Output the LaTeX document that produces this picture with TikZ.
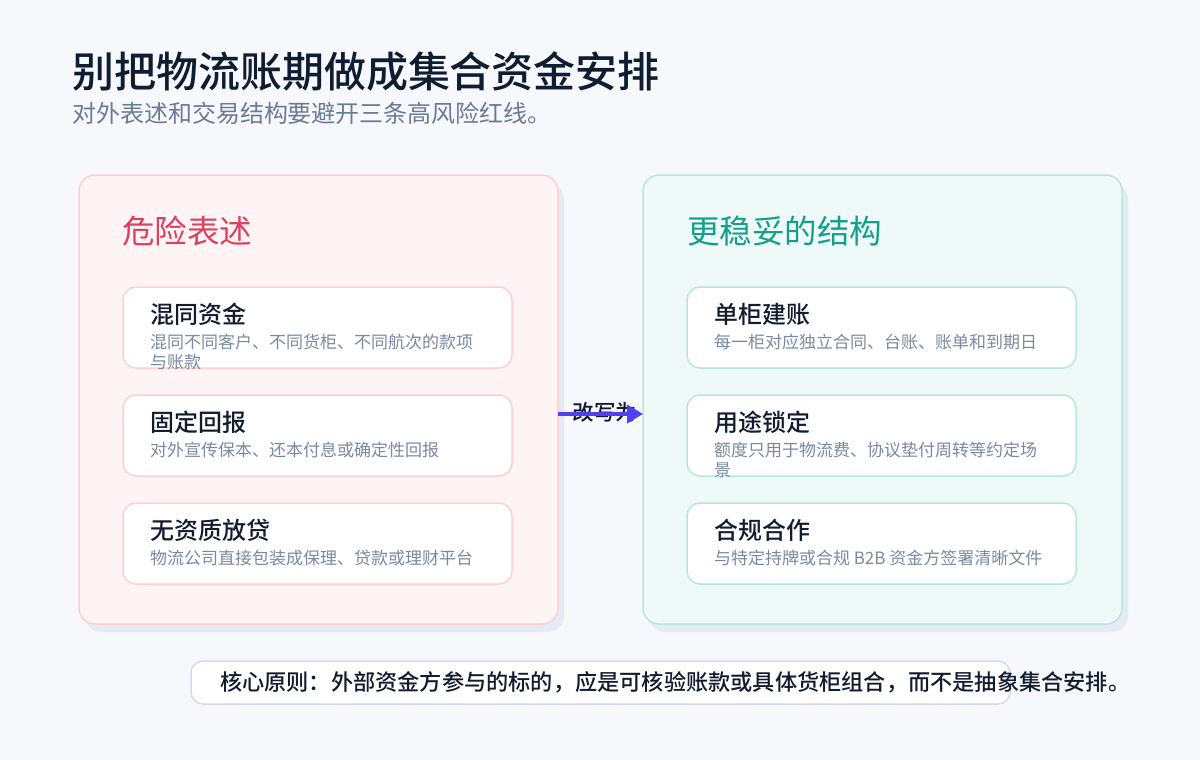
\documentclass[tikz,border=0pt]{standalone}
\usepackage{fontspec}
\setmainfont{Noto Sans CJK SC}
\newfontfamily\medfont{Noto Sans CJK SC Medium}
\usetikzlibrary{arrows.meta}
\definecolor{bgc}{HTML}{F7F8FC}
\definecolor{titlec}{HTML}{0F1D33}
\definecolor{subc}{HTML}{6B7B93}
\definecolor{redhead}{HTML}{DA405F}
\definecolor{greenhead}{HTML}{12A08A}
\definecolor{redbg}{HTML}{FFF4F5}
\definecolor{redline}{HTML}{FDCFCF}
\definecolor{greenbg}{HTML}{EFF9F7}
\definecolor{greenline}{HTML}{B5E8DC}
\definecolor{shadowc}{HTML}{E6EAF5}
\definecolor{descc}{HTML}{7A8AA0}
\definecolor{cardtc}{HTML}{111C2E}
\definecolor{noteline}{HTML}{DAD6FA}
\definecolor{arrowc}{HTML}{5140EE}
\begin{document}
\begin{tikzpicture}[x=1pt,y=-1pt,
  every node/.style={inner sep=0pt, outer sep=0pt},
  panelL/.style={draw=redline, fill=redbg, line width=1.5pt, rounded corners=16pt, minimum width=479pt, minimum height=449pt, anchor=north west},
  panelR/.style={draw=greenline, fill=greenbg, line width=1.5pt, rounded corners=16pt, minimum width=479pt, minimum height=449pt, anchor=north west},
  shadowbox/.style={fill=shadowc, rounded corners=16pt},
  cardL/.style={draw=redline, fill=white, line width=1.5pt, rounded corners=13pt, minimum width=389pt, minimum height=81pt, anchor=north west},
  cardR/.style={draw=greenline, fill=white, line width=1.5pt, rounded corners=13pt, minimum width=389pt, minimum height=81pt, anchor=north west},
  cardtitle/.style={anchor=base west, font=\fontsize{24}{28}\selectfont\medfont, text=cardtc},
  carddesc/.style={anchor=base west, align=left, font=\fontsize{17}{19.5}\selectfont, text=descc},
  heading/.style={anchor=base west, font=\fontsize{32.5}{38}\selectfont},
  conn/.style={-{Triangle[length=16pt,width=18pt]}, line width=4.5pt, draw=arrowc}
]
\useasboundingbox[fill=bgc] (0,0) rectangle (1200,760);

% title
\node[anchor=base west, font=\fontsize{42}{50}\selectfont\medfont, text=titlec] (title) at (72,88) {别把物流账期做成集合资金安排};
\node[anchor=base west, font=\fontsize{24}{29}\selectfont, text=subc] (subtitle) at (72,122) {对外表述和交易结构要避开三条高风险红线。};

% shadows
\fill[shadowbox] (85,183) rectangle (564,632);
\fill[shadowbox] (649,183) rectangle (1128,632);

% panels
\node[panelL] (lp) at (79,175) {};
\node[panelR] (rp) at (643,175) {};

\node[heading, text=redhead] (lh) at (122,243) {危险表述};
\node[heading, text=greenhead] (rh) at (687,243) {更稳妥的结构};

% left cards
\node[cardL] (l1) at (123,287) {};
\node[cardL] (l2) at (123,395) {};
\node[cardL] (l3) at (123,503) {};
\node[cardtitle] (l1t) at (150,323) {混同资金};
\node[carddesc] (l1d) at (150,368) {混同不同客户、不同货柜、不同航次的款项\\与账款};
\node[cardtitle] (l2t) at (150,431) {固定回报};
\node[carddesc] (l2d) at (150,456.5) {对外宣传保本、还本付息或确定性回报};
\node[cardtitle] (l3t) at (150,539) {无资质放贷};
\node[carddesc] (l3d) at (150,564.5) {物流公司直接包装成保理、贷款或理财平台};

% right cards
\node[cardR] (r1) at (687,287) {};
\node[cardR] (r2) at (687,395) {};
\node[cardR] (r3) at (687,503) {};
\node[cardtitle] (r1t) at (714,323) {单柜建账};
\node[carddesc] (r1d) at (714,348.5) {每一柜对应独立合同、台账、账单和到期日};
\node[cardtitle] (r2t) at (714,431) {用途锁定};
\node[carddesc] (r2d) at (714,476) {额度只用于物流费、协议垫付周转等约定场\\景};
\node[cardtitle] (r3t) at (714,539) {合规合作};
\node[carddesc] (r3d) at (714,564.5) {与特定持牌或合规 B2B 资金方签署清晰文件};

% connector
\coordinate (ay) at (0,414);
\node[font=\fontsize{21.5}{25}\selectfont\medfont, text=cardtc] (albl) at (605,412) {改写为};
\draw[conn] (lp.east |- ay) -- (rp.west |- ay);

% note
\node[draw=noteline, fill=white, line width=1.5pt, rounded corners=12pt, minimum width=819pt, minimum height=43pt, anchor=north west] (note) at (191,661) {};
\node[anchor=base west, font=\fontsize{22.2}{26}\selectfont\medfont, text=cardtc] (notet) at (220,690) {核心原则：外部资金方参与的标的，应是可核验账款或具体货柜组合，而不是抽象集合安排。};
\end{tikzpicture}
\end{document}
